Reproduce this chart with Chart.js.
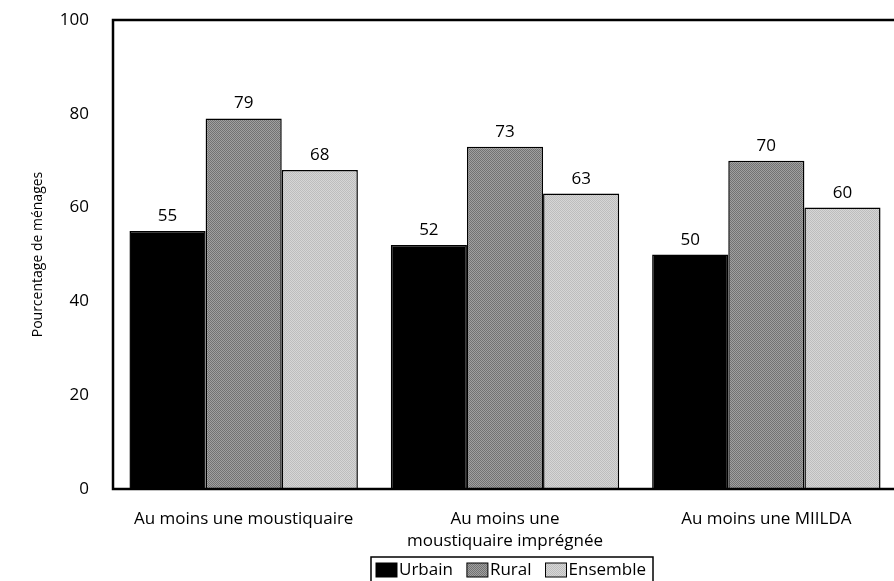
<!DOCTYPE html>
<html>
<head>
<meta charset="utf-8">
<script src="https://cdn.jsdelivr.net/npm/chart.js@4/dist/chart.umd.min.js"></script>
<style>
  html, body { margin: 0; padding: 0; background: #fff; overflow: hidden; }
  #wrap { width: 897px; height: 581px; }
</style>
</head>
<body>
<div id="wrap"><canvas id="chart"></canvas></div>
<script>
// Données
const categories = ['Au moins une moustiquaire', ['Au moins une', 'moustiquaire imprégnée'], 'Au moins une MIILDA'];
const seriesNames = ['Urbain', 'Rural', 'Ensemble'];
const urbain = [55, 52, 50];
const rural = [79, 73, 70];
const ensemble = [68, 63, 60];
const yTicks = [0, 20, 40, 60, 80, 100];

const FONT = '"Open Sans", Lato, sans-serif';

// trame fine (damier de deux gris), comme l'impression d'origine
function grain(light, dark) {
  const c = document.createElement('canvas');
  c.width = 2; c.height = 2;
  const g = c.getContext('2d');
  g.fillStyle = light;
  g.fillRect(0, 0, 2, 2);
  g.fillStyle = dark;
  g.fillRect(0, 0, 1, 1);
  g.fillRect(1, 1, 1, 1);
  return g.createPattern(c, 'repeat');
}
const fills = ['#000000', grain('#a0a0a0', '#727272'), grain('#d6d6d6', '#bdbdbd')];

// Valeurs au-dessus des barres
const valueLabels = {
  id: 'valueLabels',
  afterDatasetsDraw(chart) {
    const ctx = chart.ctx;
    ctx.save();
    ctx.font = '17px ' + FONT;
    ctx.fillStyle = '#000';
    ctx.textAlign = 'center';
    ctx.textBaseline = 'alphabetic';
    chart.data.datasets.forEach((ds, i) => {
      chart.getDatasetMeta(i).data.forEach((bar, j) => {
        ctx.fillText(ds.data[j], bar.x, bar.y - 10);
      });
    });
    ctx.restore();
  }
};

// Cadre du graphique et légende encadrée en bas
const frameAndLegend = {
  id: 'frameAndLegend',
  afterDraw(chart) {
    const ctx = chart.ctx;
    const a = chart.chartArea;
    ctx.save();
    ctx.strokeStyle = '#000';
    ctx.lineWidth = 2.5;
    ctx.strokeRect(a.left, a.top, a.right - a.left, a.bottom - a.top);

    ctx.font = '17px ' + FONT;
    ctx.textBaseline = 'middle';
    ctx.textAlign = 'left';
    const boxW = 21, boxH = 14, gapText = 2, gapItem = 14;
    const items = chart.data.datasets.map(ds => ({ ds, w: ctx.measureText(ds.label).width }));
    const total = items.reduce((s, it) => s + boxW + gapText + it.w, 0) + gapItem * (items.length - 1);
    const cy = 570;
    let x = (a.left + a.right) / 2 + 6 - total / 2;
    ctx.lineWidth = 1.5;
    ctx.strokeRect(x - 5, cy - 13, total + 12, 30);
    items.forEach(it => {
      ctx.fillStyle = it.ds.backgroundColor;
      ctx.fillRect(x, cy - boxH / 2, boxW, boxH);
      ctx.lineWidth = 1;
      ctx.strokeRect(x, cy - boxH / 2, boxW, boxH);
      ctx.fillStyle = '#000';
      ctx.fillText(it.ds.label, x + boxW + gapText, cy);
      x += boxW + gapText + it.w + gapItem;
    });
    ctx.restore();
  }
};

const config = {
  type: 'bar',
  data: {
    labels: categories,
    datasets: [urbain, rural, ensemble].map((vals, i) => ({
      label: seriesNames[i],
      data: vals,
      backgroundColor: fills[i],
      borderColor: '#000',
      borderWidth: 1.5,
      borderSkipped: 'bottom',
      categoryPercentage: 0.874,
      barPercentage: 1
    }))
  },
  options: {
    responsive: true,
    maintainAspectRatio: false,
    animation: false,
    layout: { padding: { top: 20, right: 0, left: 0, bottom: 0 } },
    plugins: {
      tooltip: { enabled: false },
      legend: { display: false }
    },
    scales: {
      x: {
        afterFit(axis) { axis.height = 92; },
        grid: { display: false },
        border: { display: false },
        ticks: { font: { family: FONT, size: 17, lineHeight: 1.3 }, color: '#000', maxRotation: 0, padding: 11 }
      },
      y: {
        min: 0,
        max: 100,
        afterBuildTicks(axis) { axis.ticks = yTicks.map(v => ({ value: v })); },
        afterFit(axis) { axis.width = 113; axis.paddingTop = 0; axis.paddingBottom = 0; },
        grid: { display: false },
        border: { display: false },
        ticks: { font: { family: FONT, size: 17 }, color: '#000', padding: 16 },
        title: {
          display: true,
          text: 'Pourcentage de ménages',
          font: { family: FONT, size: 14 },
          color: '#000',
          padding: { top: 30, bottom: 0 }
        }
      }
    }
  },
  plugins: [valueLabels, frameAndLegend]
};

const chart = new Chart(document.getElementById('chart').getContext('2d'), config);
</script>
</body>
</html>
